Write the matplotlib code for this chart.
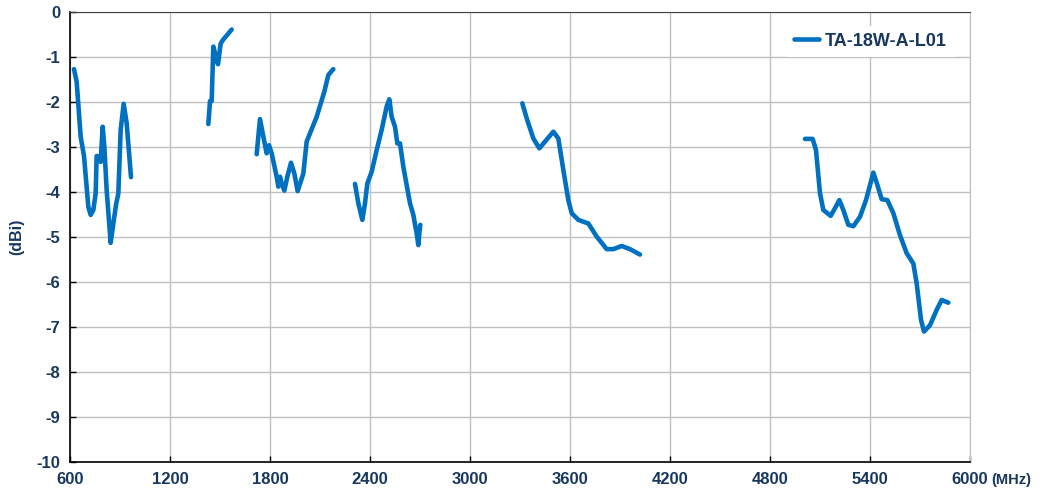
import numpy as np
import matplotlib
matplotlib.use("Agg")
import matplotlib.pyplot as plt

# Band 1
f1 = [624, 640, 664, 684, 710, 724, 740, 754, 760, 776, 784, 796, 806, 820, 844, 860, 876, 890, 904, 922, 940, 966]
g1 = [-1.27, -1.55, -2.77, -3.2, -4.33, -4.51, -4.4, -4.03, -3.2, -3.21, -3.33, -2.55, -2.99, -3.96, -5.13, -4.7, -4.29, -4.03, -2.62, -2.04, -2.47, -3.67]
# Band 2
f2 = [1430, 1440, 1450, 1460, 1476, 1488, 1504, 1520, 1570]
g2 = [-2.49, -1.98, -1.98, -0.77, -0.99, -1.16, -0.70, -0.61, -0.39]
# Band 3
f3 = [1720, 1740, 1760, 1780, 1794, 1810, 1840, 1850, 1860, 1870, 1886, 1904, 1926, 1946, 1966, 2000, 2020, 2080, 2126, 2150, 2180]
g3 = [-3.16, -2.38, -2.77, -3.14, -2.96, -3.14, -3.66, -3.88, -3.66, -3.81, -3.97, -3.66, -3.35, -3.59, -3.98, -3.59, -2.88, -2.33, -1.77, -1.4, -1.27]
# Band 4
f4 = [2310, 2330, 2354, 2370, 2384, 2410, 2440, 2470, 2500, 2516, 2530, 2550, 2564, 2580, 2600, 2640, 2660, 2680, 2690, 2696, 2702]
g4 = [-3.82, -4.25, -4.62, -4.25, -3.81, -3.55, -3.07, -2.62, -2.10, -1.94, -2.33, -2.55, -2.92, -2.92, -3.44, -4.25, -4.51, -4.92, -5.18, -4.92, -4.73]
# Band 5
f5 = [3314, 3340, 3380, 3416, 3450, 3500, 3530, 3560, 3590, 3610, 3650, 3710, 3760, 3820, 3860, 3910, 3960, 4020]
g5 = [-2.03, -2.36, -2.81, -3.03, -2.88, -2.66, -2.81, -3.51, -4.18, -4.47, -4.62, -4.70, -4.99, -5.27, -5.27, -5.2, -5.27, -5.39]
# Band 6
f6 = [5010, 5056, 5076, 5100, 5120, 5164, 5190, 5216, 5240, 5270, 5300, 5340, 5376, 5420, 5444, 5470, 5504, 5540, 5580, 5620, 5660, 5680, 5706, 5724, 5760, 5800, 5830, 5870]
g6 = [-2.82, -2.82, -3.07, -4.03, -4.4, -4.53, -4.36, -4.18, -4.4, -4.73, -4.76, -4.55, -4.18, -3.57, -3.84, -4.16, -4.18, -4.47, -4.96, -5.36, -5.59, -6.03, -6.84, -7.10, -6.96, -6.62, -6.4, -6.46]

series_name = "TA-18W-A-L01"
x_ticks = [600, 1200, 1800, 2400, 3000, 3600, 4200, 4800, 5400, 6000]
y_ticks = [0, -1, -2, -3, -4, -5, -6, -7, -8, -9, -10]

freq = []
gain = []
for f, g in [(f1, g1), (f2, g2), (f3, g3), (f4, g4), (f5, g5), (f6, g6)]:
    freq += f + [np.nan]
    gain += g + [np.nan]

navy = "#17375E"
blue = "#0070C0"

plt.rcParams['font.family'] = ['Liberation Sans', 'DejaVu Sans']
fig = plt.figure(figsize=(10.48, 4.95), dpi=100)
ax = fig.add_axes([70/1048, 1-462/495, 900/1048, 450/495])

ax.plot(freq, gain, color=blue, lw=3.3, solid_capstyle='round', solid_joinstyle='round', label=series_name)

ax.set_xlim(600, 6000)
ax.set_ylim(-10, 0)
ax.set_xticks(x_ticks)
ax.set_yticks(y_ticks)
ax.set_xticklabels([str(v) for v in x_ticks])
ax.set_yticklabels([str(v) for v in y_ticks])
ax.grid(True, color="#C0C0C0", lw=1.0)
ax.set_axisbelow(True)
ax.spines['top'].set_color("#404040")
ax.spines['right'].set_color("#C0C0C0")
for s in ['left', 'bottom']:
    ax.spines[s].set_color("black")
    ax.spines[s].set_linewidth(1.2)
ax.tick_params(direction='in', length=4, width=1, colors='black', pad=7)
for lab in ax.get_xticklabels() + ax.get_yticklabels():
    lab.set_fontweight('bold')
    lab.set_fontsize(12)
    lab.set_color(navy)

ax.set_ylabel("(dBi)", fontsize=11.5, fontweight='bold', color=navy, labelpad=9)
fig.text(991/1048, 1-480/495, "(MHz)", fontsize=10.5, fontweight='bold', color=navy, ha='left', va='center')

leg = ax.legend(loc='upper right', bbox_to_anchor=(0.992, 0.99), frameon=True, fancybox=False,
                edgecolor='none', facecolor='white', framealpha=1, handlelength=1.4, handletextpad=0.3,
                prop={'weight': 'bold', 'size': 13})
for t in leg.get_texts():
    t.set_color(navy)

fig.savefig("out.png", dpi=100)
